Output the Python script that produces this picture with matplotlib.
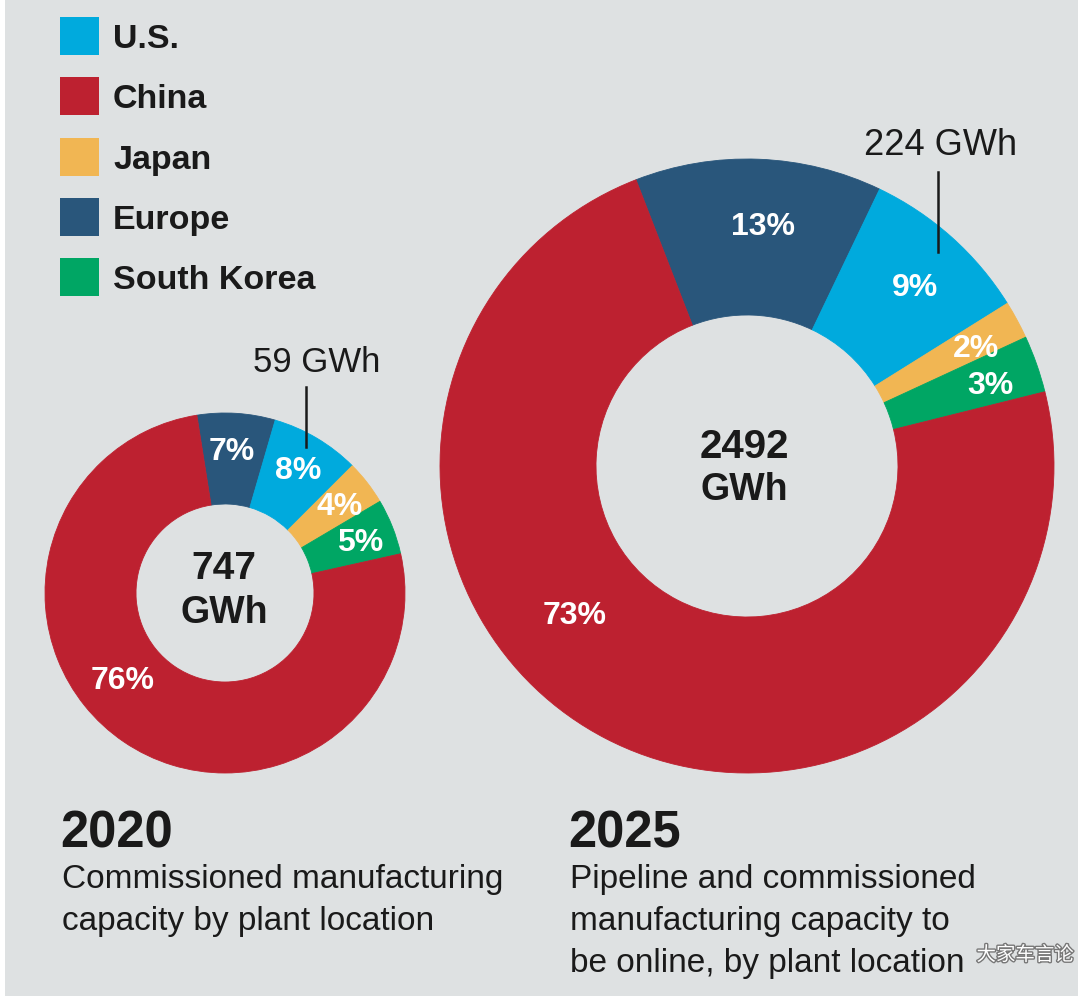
import matplotlib
matplotlib.use("Agg")
import matplotlib.pyplot as plt
from matplotlib.patches import Rectangle
import matplotlib.patheffects as pe

# ---------------- data ----------------
regions = ["Europe", "U.S.", "Japan", "South Korea", "China"]
share_2020 = [7, 8, 4, 5, 76]
share_2025 = [13, 9, 2, 3, 73]
total_2020 = "747\nGWh"
total_2025 = "2492\nGWh"
us_2020 = "59 GWh"
us_2025 = "224 GWh"
legend_order = ["U.S.", "China", "Japan", "Europe", "South Korea"]
colors = {"U.S.": "#00aadd", "China": "#bd2130", "Japan": "#f1b653",
          "Europe": "#29567b", "South Korea": "#00a664"}
title_2020 = "2020"
sub_2020 = "Commissioned manufacturing\ncapacity by plant location"
title_2025 = "2025"
sub_2025 = "Pipeline and commissioned\nmanufacturing capacity to\nbe online, by plant location"
watermark = "大家车言论"

W, H = 1078, 998
BG = "#dee1e2"
TXT = "#1a1a1a"
FONT = "Liberation Sans"

fig = plt.figure(figsize=(W / 100, H / 100), dpi=100, facecolor="white")
ax = fig.add_axes([0, 0, 1, 1])
ax.set_xlim(0, W)
ax.set_ylim(0, H)
ax.set_aspect("equal")
ax.axis("off")
ax.add_patch(Rectangle((5, 2), W - 5, H - 2, facecolor=BG, edgecolor="none", zorder=0))

def Y(y):  # image-pixel y (top down) -> data y
    return H - y

def donut(values, cx, cy, r_out, r_in, start):
    wedges, _ = ax.pie(values, colors=[colors[k] for k in regions],
                       startangle=start, counterclock=False,
                       center=(cx, Y(cy)), radius=r_out, frame=True,
                       wedgeprops=dict(width=r_out - r_in, linewidth=0.6))
    for w in wedges:
        w.set_edgecolor(w.get_facecolor())
        w.set_zorder(2)
    return wedges

donut(share_2020, 225, 593, 180, 89, 99.0)
donut(share_2025, 747, 466, 307, 151, 111.2)
ax.set_xlim(0, W)
ax.set_ylim(0, H)
ax.axis("off")

# percentage labels
pct_pos_2020 = [(232, 452), (298, 471), (340, 507), (360, 543), (123, 681)]
pct_pos_2025 = [(763, 227), (915, 288), (976, 349), (990, 386), (575, 616)]
for vals, pos in ((share_2020, pct_pos_2020), (share_2025, pct_pos_2025)):
    for v, (x, y) in zip(vals, pos):
        ax.text(x, Y(y), f"{v}%", color="white", fontsize=23, fontweight="bold",
                family=FONT, ha="center", va="center", zorder=5)

# centre totals
ax.text(224, Y(569), total_2020.split("\n")[0], fontsize=28, fontweight="bold",
        family=FONT, color=TXT, ha="center", va="center", zorder=5)
ax.text(224, Y(613), total_2020.split("\n")[1], fontsize=27, fontweight="bold",
        family=FONT, color=TXT, ha="center", va="center", zorder=5)
ax.text(744, Y(447), total_2025.split("\n")[0], fontsize=29, fontweight="bold",
        family=FONT, color=TXT, ha="center", va="center", zorder=5)
ax.text(744, Y(490), total_2025.split("\n")[1], fontsize=27, fontweight="bold",
        family=FONT, color=TXT, ha="center", va="center", zorder=5)

# U.S. callouts
ax.text(253, Y(372), us_2020, fontsize=25, family=FONT, color=TXT,
        ha="left", va="baseline", zorder=5)
ax.plot([306, 306], [Y(387), Y(447)], color=TXT, lw=1.8, zorder=6)
ax.text(864, Y(155), us_2025, fontsize=26, family=FONT, color=TXT,
        ha="left", va="baseline", zorder=5)
ax.plot([938, 938], [Y(172), Y(252)], color=TXT, lw=1.8, zorder=6)

# legend
for i, name in enumerate(legend_order):
    top = 17 + i * 60.3
    ax.add_patch(Rectangle((60, Y(top + 38)), 39, 38, facecolor=colors[name],
                           edgecolor="none", zorder=3))
    ax.text(113, Y(top + 19), name, fontsize=24.5, fontweight="bold", family=FONT,
            color=TXT, ha="left", va="center_baseline", zorder=5)

# titles
for x, t, s in ((62, title_2020, sub_2020), (570, title_2025, sub_2025)):
    ax.text(x - 2, Y(847), t, fontsize=36.5, fontweight="bold", family=FONT,
            color=TXT, ha="left", va="baseline", zorder=5)
    for j, line in enumerate(s.split("\n")):
        ax.text(x, Y(888 + 42 * j), line, fontsize=24, family=FONT, color=TXT,
                ha="left", va="baseline", zorder=5)

# watermark
ax.text(1074, Y(955), watermark, fontsize=14, family=["Noto Sans CJK SC", "DejaVu Sans"],
        color="white", ha="right", va="center", zorder=7,
        path_effects=[pe.withStroke(linewidth=2, foreground="#777777")])

fig.savefig("out.png", dpi=100, facecolor="white")
